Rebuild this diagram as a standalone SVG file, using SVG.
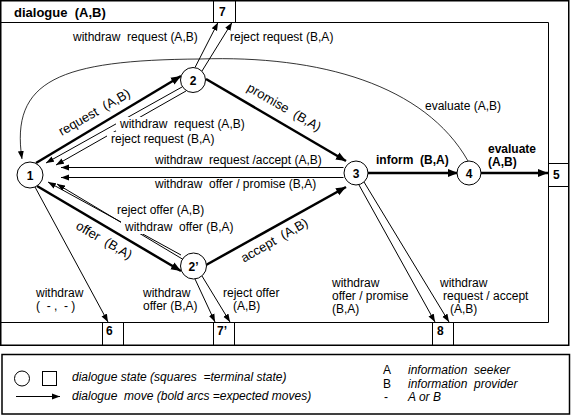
<svg xmlns="http://www.w3.org/2000/svg" width="572" height="416" viewBox="0 0 572 416" xml:space="preserve">
<style>
text{font-family:"Liberation Sans",Arial,Helvetica,sans-serif;font-size:12px;fill:#000;white-space:pre}
.b{font-weight:bold}
.t13{font-size:13px}
.i{font-style:italic}
.frame{fill:none;stroke:#000;stroke-width:1.5}
.ln{fill:none;stroke:#000;stroke-width:1}
.thin{fill:none;stroke:#000;stroke-width:1;marker-end:url(#a)}
.thick{fill:none;stroke:#000;stroke-width:2.5;marker-end:url(#A)}
.curve{fill:none;stroke:#000;stroke-width:0.8;marker-end:url(#a)}
circle{fill:#fff;stroke:#000;stroke-width:1}
.bg{fill:#fff}
</style>
<defs>
<marker id="a" markerUnits="userSpaceOnUse" markerWidth="9" markerHeight="7" refX="8" refY="3.5" orient="auto"><path d="M0,0.5 L8,3.5 L0,6.5 z"/></marker>
<marker id="A" markerUnits="userSpaceOnUse" markerWidth="11" markerHeight="9" refX="10" refY="4.5" orient="auto"><path d="M0,0.5 L10,4.5 L0,8.5 z"/></marker>
</defs>
<rect width="572" height="416" fill="#fff"/>
<g id="frame">
<rect x="0.75" y="0.75" width="568" height="344.5" class="frame"/>
<path class="ln" d="M0,22.5 H548.5 V322.5 H0"/>
<text class="b t13" x="14" y="17">dialogue  (A,B)</text>
</g>
<g id="connectors">
<path class="thick" d="M36,163 L181,76"/>
<path class="thin" d="M182,87 L46,163"/>
<path class="thin" d="M186,91 L56,165"/>
<path class="thick" d="M206,79 L346,161"/>
<path class="thick" d="M206,265 L346,187"/>
<path class="thin" d="M343.5,167.5 L61,167.5"/>
<path class="thin" d="M343.5,177.5 L61,177.5"/>
<path class="thick" d="M37,186 L181,271"/>
<path class="thin" d="M181,255 L48,182"/>
<path class="thin" d="M184,260 L57,184"/>
<path class="thin" d="M195,67.5 L218,22.5"/>
<path class="thin" d="M202,71 L232,22.5"/>
<path class="thin" d="M195,279 L215,322"/>
<path class="thin" d="M202,276 L230,322"/>
<path class="thin" d="M35,187 L108,322"/>
<path class="thin" d="M359,185 L435,322"/>
<path class="thin" d="M364,182 L449,322"/>
<path class="thick" d="M368,173 L458,173"/>
<path class="thick" d="M481,173 L548,173"/>
<path class="curve" d="M468,161 C425,85 320,55 200,59 C60,60 10,80 22,159"/>
</g>
<g id="labels">
<text x="73" y="41">withdraw  request (A,B)</text>
<text x="230" y="41">reject request (B,A)</text>
<text x="425" y="110">evaluate (A,B)</text>
<text class="t13" text-anchor="middle" transform="translate(96.5,116) rotate(-30)">request  (A,B)</text>
<text class="t13" text-anchor="middle" transform="translate(282,111) rotate(30)">promise  (B,A)</text>
<rect class="bg" x="116" y="117" width="131" height="14"/>
<text x="120" y="128">withdraw  request (A,B)</text>
<rect class="bg" x="107" y="132" width="112" height="14"/>
<text x="111" y="143">reject request (B,A)</text>
<text x="155" y="164">withdraw  request /accept (A,B)</text>
<text x="155" y="188">withdraw  offer / promise (B,A)</text>
<text class="b" x="376" y="164">inform  (B,A)</text>
<text class="b" x="488" y="153">evaluate</text>
<text class="b" x="488" y="166">(A,B)</text>
<rect class="bg" x="113" y="203" width="96" height="14"/>
<text x="117" y="214">reject offer (A,B)</text>
<rect class="bg" x="121" y="220" width="114" height="14"/>
<text x="125" y="231">withdraw  offer (B,A)</text>
<text class="t13" text-anchor="middle" transform="translate(102,244) rotate(30)">offer  (B,A)</text>
<text class="t13" text-anchor="middle" transform="translate(276.5,244) rotate(-30)">accept  (A,B)</text>
<text x="36" y="297">withdraw</text>
<text x="36" y="310">(  - ,  - )</text>
<text x="143" y="297">withdraw</text>
<text x="143" y="310">offer (B,A)</text>
<text x="223" y="297">reject offer</text>
<text x="233" y="310">(A,B)</text>
<text x="332" y="287">withdraw</text>
<text x="332" y="300">offer / promise</text>
<text x="332" y="313">(B,A)</text>
<text x="440" y="287">withdraw</text>
<text x="443" y="300">request / accept</text>
<text x="450" y="313">(A,B)</text>
</g>
<g id="node1"><circle cx="30" cy="175" r="13"/><text class="b" x="30" y="179.5" text-anchor="middle">1</text></g>
<g id="node2"><circle cx="193" cy="80" r="12.5"/><text class="b" x="193" y="84.5" text-anchor="middle">2</text></g>
<g id="node2p"><circle cx="193.5" cy="266" r="13"/><text class="b" x="193.5" y="270.5" text-anchor="middle">2’</text></g>
<g id="node3"><circle cx="356" cy="173" r="12"/><text class="b" x="356" y="177.5" text-anchor="middle">3</text></g>
<g id="node4"><circle cx="469" cy="173" r="12"/><text class="b" x="469" y="177.5" text-anchor="middle">4</text></g>
<g id="term7"><path class="ln" d="M213.5,0 V22.5 M235.5,0 V22.5"/><text class="b" x="219" y="16">7</text></g>
<g id="term5"><path class="ln" d="M548.5,163.5 H569 M548.5,186.5 H569"/><text class="b" x="553" y="178.5">5</text></g>
<g id="term6"><path class="ln" d="M102.5,322.5 V345 M123.5,322.5 V345"/><text class="b" x="106" y="335">6</text></g>
<g id="term7p"><path class="ln" d="M213.5,322.5 V345 M234.5,322.5 V345"/><text class="b" x="217" y="335">7’</text></g>
<g id="term8"><path class="ln" d="M432.5,322.5 V345 M453.5,322.5 V345"/><text class="b" x="437" y="335">8</text></g>
<g id="legend">
<rect x="2" y="354.5" width="567.5" height="59.5" class="frame"/>
<circle cx="22" cy="378.5" r="7.5"/>
<rect x="42.5" y="371.5" width="14" height="14" fill="none" stroke="#000"/>
<path class="thin" d="M16,396.5 L60,396.5"/>
<text class="i" x="72" y="381">dialogue state (squares  =terminal state)</text>
<text class="i" x="72" y="400">dialogue  move (bold arcs =expected moves)</text>
<text x="383" y="374">A</text>
<text class="i" x="408" y="374">information  seeker</text>
<text x="383" y="388">B</text>
<text class="i" x="408" y="388">information  provider</text>
<text x="384" y="401">-</text>
<text class="i" x="408" y="401">A or B</text>
</g>
</svg>
